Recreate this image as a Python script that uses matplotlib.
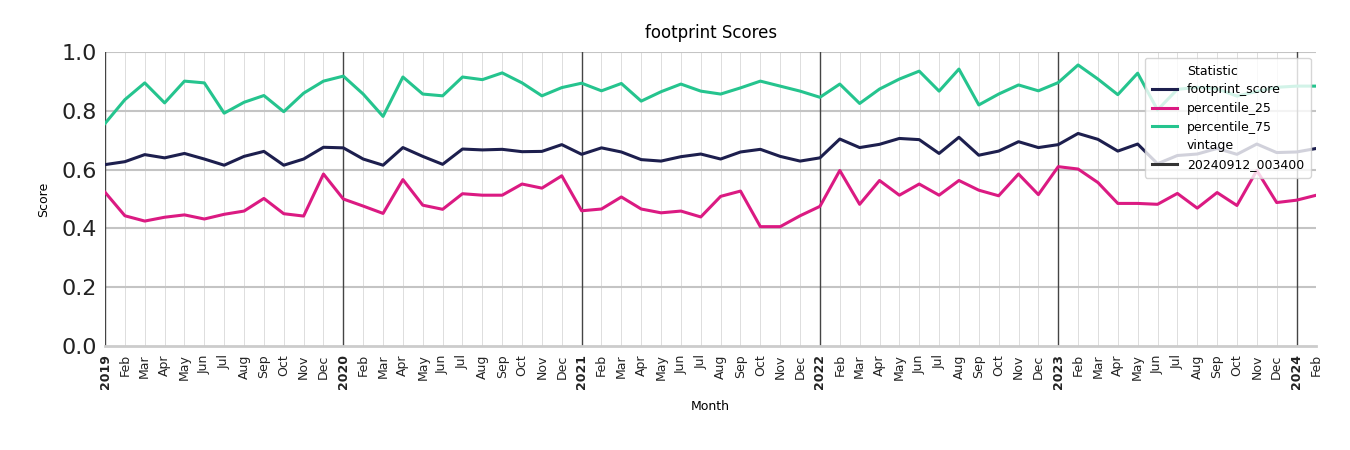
import matplotlib
matplotlib.use("Agg")
from matplotlib import pyplot as plt
from matplotlib.lines import Line2D
import numpy as np

months = ["Jan", "Feb", "Mar", "Apr", "May", "Jun", "Jul", "Aug", "Sep", "Oct", "Nov", "Dec"]
years = [2019, 2020, 2021, 2022, 2023, 2024]

footprint_score = [
    0.617, 0.627, 0.651, 0.640, 0.655, 0.636, 0.615, 0.645, 0.662, 0.615, 0.636, 0.676,
    0.674, 0.636, 0.615, 0.675, 0.645, 0.618, 0.670, 0.667, 0.669, 0.661, 0.662, 0.685,
    0.652, 0.674, 0.660, 0.634, 0.629, 0.644, 0.653, 0.636, 0.660, 0.669, 0.645, 0.629,
    0.640, 0.704, 0.675, 0.686, 0.706, 0.702, 0.655, 0.710, 0.649, 0.663, 0.695, 0.675,
    0.685, 0.723, 0.703, 0.663, 0.687, 0.620, 0.648, 0.653, 0.672, 0.652, 0.687, 0.658,
    0.660, 0.672,
]
percentile_25 = [
    0.523, 0.443, 0.425, 0.438, 0.446, 0.432, 0.448, 0.459, 0.502, 0.450, 0.442, 0.585,
    0.500, 0.476, 0.451, 0.566, 0.479, 0.465, 0.518, 0.513, 0.513, 0.551, 0.537, 0.579,
    0.460, 0.466, 0.507, 0.466, 0.453, 0.459, 0.439, 0.509, 0.527, 0.406, 0.406, 0.443,
    0.475, 0.597, 0.482, 0.563, 0.513, 0.551, 0.513, 0.563, 0.530, 0.511, 0.585, 0.515,
    0.610, 0.602, 0.556, 0.485, 0.485, 0.482, 0.519, 0.469, 0.522, 0.478, 0.597, 0.488,
    0.496, 0.513,
]
percentile_75 = [
    0.757, 0.838, 0.895, 0.827, 0.901, 0.895, 0.792, 0.829, 0.852, 0.797, 0.860, 0.901,
    0.918, 0.857, 0.781, 0.915, 0.857, 0.851, 0.915, 0.906, 0.929, 0.895, 0.851, 0.879,
    0.894, 0.868, 0.893, 0.833, 0.865, 0.891, 0.867, 0.857, 0.878, 0.901, 0.884, 0.867,
    0.846, 0.891, 0.825, 0.874, 0.908, 0.935, 0.867, 0.942, 0.820, 0.857, 0.888, 0.868,
    0.896, 0.956, 0.908, 0.855, 0.928, 0.803, 0.873, 0.880, 0.875, 0.850, 0.866, 0.880,
    0.884, 0.884,
]

labels = []
for y in years:
    for m in months:
        labels.append(str(y) if m == "Jan" else m)
labels = labels[:len(footprint_score)]
x = np.arange(len(footprint_score))

colors = {"footprint_score": "#1d1f4e", "percentile_25": "#db1a82", "percentile_75": "#25c48e"}

fig = plt.figure(figsize=(13.5, 4.5), dpi=100)
ax = fig.add_axes([0.0778, 0.2311, 0.8973, 0.6533])

# grid
for i in x:
    if i % 12 == 0:
        ax.axvline(i, color="#444444", lw=1.0, zorder=1)
    else:
        ax.axvline(i, color="#dddddd", lw=0.7, zorder=0)
for v in [0.2, 0.4, 0.6, 0.8, 1.0]:
    ax.axhline(v, color="#c4c4c4", lw=1.5, zorder=0)

ax.plot(x, footprint_score, color=colors["footprint_score"], lw=2.2, zorder=3)
ax.plot(x, percentile_25, color=colors["percentile_25"], lw=2.2, zorder=3)
ax.plot(x, percentile_75, color=colors["percentile_75"], lw=2.2, zorder=3)

ax.set_xlim(0, len(x) - 1)
ax.set_ylim(0, 1.0)
ax.set_yticks([0.0, 0.2, 0.4, 0.6, 0.8, 1.0])
ax.set_yticklabels(["0.0", "0.2", "0.4", "0.6", "0.8", "1.0"])
ax.tick_params(axis="y", labelsize=16, length=0, pad=6, colors="#222222")
ax.set_xticks(x)
ax.set_xticklabels(labels, rotation=90, fontsize=9)
ax.tick_params(axis="x", length=0, pad=6, colors="#222222")
for t in ax.get_xticklabels():
    if t.get_text().isdigit():
        t.set_fontweight("bold")

for s in ["top", "right", "left"]:
    ax.spines[s].set_visible(False)
ax.spines["bottom"].set_color("#cccccc")
ax.spines["bottom"].set_linewidth(2)

ax.set_title("footprint Scores", fontsize=12, pad=10)
ax.set_ylabel("Score", fontsize=9, labelpad=8)
ax.set_xlabel("Month", fontsize=9, labelpad=8)

handles = [
    Line2D([], [], color="none"),
    Line2D([], [], color=colors["footprint_score"], lw=2.2),
    Line2D([], [], color=colors["percentile_25"], lw=2.2),
    Line2D([], [], color=colors["percentile_75"], lw=2.2),
    Line2D([], [], color="none"),
    Line2D([], [], color="#333333", lw=2.2),
]
names = ["Statistic", "footprint_score", "percentile_25", "percentile_75", "vintage", "20240912_003400"]
leg = ax.legend(handles, names, loc="upper right", bbox_to_anchor=(0.9955, 0.98),
                borderaxespad=0, fontsize=9, framealpha=0.8, edgecolor="#cccccc",
                handlelength=2.0, borderpad=0.55, labelspacing=0.45)
leg.set_zorder(5)

fig.savefig("out.png", dpi=100)
